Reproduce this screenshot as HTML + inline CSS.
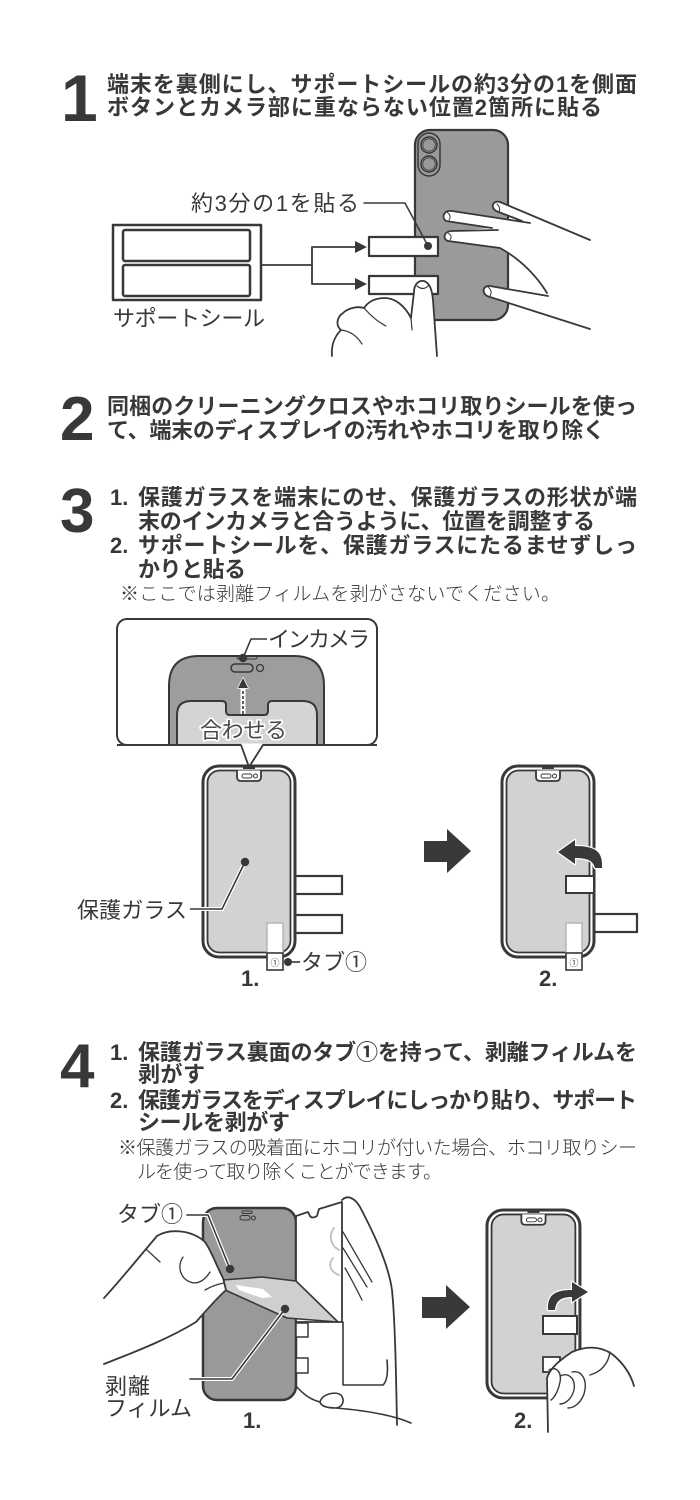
<!DOCTYPE html>
<html><head><meta charset="utf-8">
<style>
html,body{margin:0;padding:0;background:#fff;}
svg{display:block;}
.b{font-family:"Liberation Sans","Noto Sans CJK JP",sans-serif;font-weight:700;font-size:22px;fill:#3a3737;}
.l{font-family:"Liberation Sans","Noto Sans CJK JP",sans-serif;font-weight:300;font-size:19px;fill:#3a3737;}
.m{font-family:"Liberation Sans","Noto Sans CJK JP",sans-serif;font-weight:400;font-size:22px;fill:#3a3737;}
.n{font-family:"Liberation Sans",sans-serif;font-weight:700;fill:#3a3737;}
</style></head><body>
<svg width="700" height="1500" viewBox="0 0 700 1500" xmlns="http://www.w3.org/2000/svg">
<defs>
 <g id="ph">
  <rect x="0" y="0" width="92" height="191" rx="16" fill="#fff" stroke="#3a3737" stroke-width="3"/>
  <rect x="4.5" y="4.5" width="83" height="182" rx="12" fill="#d2d2d2" stroke="#3a3737" stroke-width="1.8"/>
  <path d="M34,4.5 L34,11 Q34,15 38,15 L54,15 Q58,15 58,11 L58,4.5" fill="#fff" stroke="#3a3737" stroke-width="1.8"/>
  <line x1="40" y1="2" x2="52" y2="2" stroke="#3a3737" stroke-width="2"/>
  <rect x="39" y="8" width="10" height="4" rx="2" fill="none" stroke="#3a3737" stroke-width="1"/>
  <circle cx="52.5" cy="10" r="2" fill="none" stroke="#3a3737" stroke-width="1"/>
 </g>
</defs>
<rect width="700" height="1500" fill="#fff"/>

<text class="n" x="61" y="121" font-size="66">1</text>
<text class="b" x="107" y="92" textLength="530">端末を裏側にし、サポートシールの約3分の1を側面</text>
<text class="b" x="107" y="115" textLength="495">ボタンとカメラ部に重ならない位置2箇所に貼る</text>

<g stroke="#3a3737" fill="none" stroke-linejoin="round" stroke-linecap="round">
 <rect x="113" y="225" width="148" height="75" fill="#fff" stroke-width="2.5"/>
 <rect x="123" y="230" width="127" height="31" rx="2" stroke-width="2.5"/>
 <rect x="123" y="265" width="127" height="31" rx="2" stroke-width="2.5"/>
 <polyline points="261,265 312,265" stroke-width="1.8"/>
 <polyline points="356,247 312,247 312,284 356,284" stroke-width="1.8"/>
 <polygon points="355,241 367,247 355,253" fill="#3a3737" stroke="none"/>
 <polygon points="355,278 367,284 355,290" fill="#3a3737" stroke="none"/>
 <rect x="415" y="130" width="93" height="190" rx="15" fill="#9a9a9a" stroke-width="2.2"/>
 <rect x="418" y="133" width="22" height="43" rx="11" fill="#9a9a9a" stroke-width="1.5"/>
 <circle cx="429" cy="145" r="8" stroke-width="1.5"/>
 <circle cx="429" cy="145" r="6.2" stroke-width="0.8"/>
 <circle cx="429" cy="164" r="8" stroke-width="1.5"/>
 <circle cx="429" cy="164" r="6.2" stroke-width="0.8"/>
 <rect x="369" y="237" width="69" height="19" fill="#fff" stroke-width="2.2"/>
 <rect x="369" y="276" width="69" height="18" fill="#fff" stroke-width="2.2"/>
 <polyline points="364,203 405,203 428,246" stroke-width="1.5"/>
 <circle cx="428" cy="246" r="4" fill="#3a3737" stroke="none"/>
 <path d="M590,240 L500,202 C493,200 490,207 496,211 L522,221 L452,211 C444,210 441,217 446,221 L492,228 L452,231 C444,231 442,239 448,241 L500,248 C522,260 538,278 547,293 L490,286 C482,285 481,295 490,297 L590,329 Z" fill="#fff" stroke="none"/>
 <path d="M590,240 L500,202 C493,200 490,207 496,211 L522,221 M530,223 L452,211 C444,210 441,217 446,221 L492,228 M498,230 L452,231 C444,231 442,239 448,241 L500,248 C522,260 538,278 547,293 M548,296 L490,286 C482,285 481,295 490,297 L590,329" stroke-width="1.8"/>
 <path d="M497,204 Q501,208 499,212 M447,212 Q452,216 449,220 M448,233 Q453,236 450,240 M488,287 Q493,291 490,296" stroke-width="1"/>
 <path d="M437,356 L433,300 C432,290 430,283 424,281 C418,280 414,285 414,292 L411,318 C405,306 395,298 385,298 C375,298 368,302 364,308 C358,306 348,308 343,313 C336,318 336,326 341,330 C335,336 331,345 332,356 Z" fill="#fff" stroke="none"/>
 <path d="M437,356 L433,300 C432,290 430,283 424,281 C418,280 414,285 414,292 L411,318 C405,306 395,298 385,298 C375,298 368,302 364,308 C358,306 348,308 343,313 C336,318 336,326 341,330 C335,336 331,345 332,356" stroke-width="1.8"/>
 <path d="M364,308 C371,316 378,322 386,326 M341,330 C350,331 357,336 362,344 M411,318 L412,330 M417,286 Q423,291 428,286" stroke-width="1.2"/>
</g>
<text class="m" x="191" y="211" textLength="168">約3分の1を貼る</text>
<text class="m" x="113" y="326" textLength="152">サポートシール</text>

<text class="n" x="60" y="440" font-size="62">2</text>
<text class="b" x="107" y="414" textLength="530">同梱のクリーニングクロスやホコリ取りシールを使っ</text>
<text class="b" x="107" y="438" textLength="498">て、端末のディスプレイの汚れやホコリを取り除く</text>

<text class="n" x="60" y="532" font-size="62">3</text>
<text class="b" x="110" y="505">1.</text>
<text class="b" x="138" y="505" textLength="499">保護ガラスを端末にのせ、保護ガラスの形状が端</text>
<text class="b" x="138" y="529" textLength="457">末のインカメラと合うように、位置を調整する</text>
<text class="b" x="110" y="553">2.</text>
<text class="b" x="138" y="553" textLength="499">サポートシールを、保護ガラスにたるませずしっ</text>
<text class="b" x="138" y="577" textLength="108">かりと貼る</text>
<text class="l" x="120" y="600" textLength="440">※ここでは剥離フィルムを剥がさないでください。</text>

<g stroke="#3a3737" fill="none" stroke-linejoin="round">
 <rect x="117" y="619" width="260" height="126" rx="10" fill="#fff" stroke-width="2"/>
 <path d="M169,745 L169,686 Q169,656 199,656 L294,656 Q324,656 324,686 L324,745 Z" fill="#9d9d9d" stroke-width="2"/>
 <path d="M177,745 L177,715 Q177,701 191,701 L222,701 Q226,701 226,705 L226,711 Q226,715 230,715 L264,715 Q268,715 268,711 L268,705 Q268,701 272,701 L303,701 Q317,701 317,715 L317,745 Z" fill="#d4d4d4" stroke-width="2"/>
 <line x1="117" y1="745" x2="377" y2="745" stroke-width="2"/>
 <polygon points="241,743.5 263,743.5 249,767" fill="#fff" stroke="none"/>
 <polyline points="241,745 249,767 263,745" stroke-width="1.8"/>
 <rect x="237" y="655.5" width="20" height="3.5" rx="1.7" stroke-width="1"/>
 <rect x="231" y="664" width="22" height="8" rx="4" stroke-width="1.5"/>
 <circle cx="260" cy="668" r="3.5" stroke-width="1.3"/>
 <polyline points="243,658 251,639 267,639" stroke="#fff" stroke-width="4"/>
 <polyline points="243,658 251,639 267,639" stroke-width="1.6"/>
 <circle cx="243" cy="658" r="4.2" fill="#3a3737" stroke="none"/>
 <line x1="243" y1="714" x2="243" y2="686" stroke="#fff" stroke-width="5"/>
 <line x1="243" y1="714" x2="243" y2="688" stroke-width="1.6" stroke-dasharray="3,2"/>
 <polygon points="238,688 248,688 243,678" fill="#3a3737" stroke="#fff" stroke-width="1.5" paint-order="stroke"/>
</g>
<text class="m" x="268" y="647" textLength="102">インカメラ</text>
<text x="200" y="738" font-size="22" textLength="87" style="font-family:'Liberation Sans','Noto Sans CJK JP',sans-serif;fill:#4a4a4a;stroke:#fff;stroke-width:3.5;paint-order:stroke;stroke-linejoin:round;">合わせる</text>

<g stroke="#3a3737" stroke-width="2.2">
 <rect x="288" y="876" width="54" height="18" fill="#fff"/>
 <rect x="288" y="915" width="54" height="18" fill="#fff"/>
</g>
<use href="#ph" x="203" y="766"/>
<rect x="267" y="923" width="16" height="31" fill="#fff" stroke="#b5b5b5" stroke-width="1.5"/>
<rect x="267" y="953" width="16" height="17" fill="#fff" stroke="#3a3737" stroke-width="1.6"/>
<text x="275" y="966" font-size="9" text-anchor="middle" style="font-family:'Liberation Sans','Noto Sans CJK JP',sans-serif;fill:#3a3737;">①</text>
<g stroke="#3a3737" fill="none">
 <line x1="288" y1="962" x2="300" y2="962" stroke-width="1.6"/>
 <polyline points="245,862 222,909 190,909" stroke="#fff" stroke-width="4"/>
 <polyline points="245,862 222,909 190,909" stroke-width="1.6"/>
</g>
<circle cx="288" cy="962" r="4" fill="#3a3737"/>
<circle cx="245" cy="862" r="4.2" fill="#3a3737"/>
<text class="m" x="301" y="970">タブ①</text>
<text class="m" x="77" y="918" textLength="110">保護ガラス</text>
<text class="b" x="241" y="986" font-weight="400">1.</text>

<polygon points="424,841 447,841 447,829 471,851 447,873 447,862 424,862" fill="#3b3838"/>

<rect x="588" y="914" width="49" height="18" fill="#fff" stroke="#3a3737" stroke-width="2.2"/>
<use href="#ph" x="502" y="766"/>
<rect x="566" y="876" width="28" height="17" fill="#fff" stroke="#3a3737" stroke-width="2"/>
<rect x="566" y="923" width="16" height="31" fill="#fff" stroke="#b5b5b5" stroke-width="1.5"/>
<rect x="566" y="953" width="16" height="17" fill="#fff" stroke="#3a3737" stroke-width="1.6"/>
<text x="574" y="966" font-size="9" text-anchor="middle" style="font-family:'Liberation Sans','Noto Sans CJK JP',sans-serif;fill:#3a3737;">①</text>
<path d="M602,868 C603,852 596,846 575,846 L575,840 L558,852 L575,864 L575,858 C588,858 593,861 595,868 Z" fill="#3b3838" stroke="#fff" stroke-width="2.5" paint-order="stroke" stroke-linejoin="round"/>
<text class="b" x="539" y="986" font-weight="400">2.</text>

<text class="n" x="60" y="1087" font-size="62">4</text>
<text class="b" x="110" y="1060">1.</text>
<text class="b" x="138" y="1060" textLength="499">保護ガラス裏面のタブ①を持って、剥離フィルムを</text>
<text class="b" x="138" y="1082" textLength="67">剥がす</text>
<text class="b" x="110" y="1108">2.</text>
<text class="b" x="138" y="1108" textLength="499">保護ガラスをディスプレイにしっかり貼り、サポート</text>
<text class="b" x="138" y="1130" textLength="152">シールを剥がす</text>
<text class="l" x="118" y="1154" textLength="519">※保護ガラスの吸着面にホコリが付いた場合、ホコリ取りシー</text>
<text class="l" x="137" y="1178" textLength="305">ルを使って取り除くことができます。</text>

<g stroke="#3a3737" fill="none" stroke-linejoin="round" stroke-linecap="round">
 <rect x="203" y="1208" width="93" height="192" rx="14" fill="#999" stroke-width="2.5"/>
 <rect x="242" y="1211" width="10" height="2.5" rx="1.2" stroke-width="1"/>
 <rect x="240" y="1215.5" width="10" height="4.5" rx="2.2" stroke-width="1"/>
 <circle cx="253.5" cy="1218" r="2" stroke-width="1"/>
 <rect x="296" y="1323" width="12" height="14" fill="#fff" stroke-width="1.5"/>
 <rect x="296" y="1358" width="12" height="15" fill="#fff" stroke-width="1.5"/>
 <path d="M342,1200 C347,1195 354,1197 360,1207 C372,1230 388,1262 392,1290 C395,1320 396,1370 397,1425 L343,1425 Z" fill="#fff" stroke="none"/>
 <path d="M342,1200 C347,1195 354,1197 360,1207 C372,1230 388,1262 392,1290 C395,1320 396,1370 397,1425" stroke-width="1.8"/>
 <path d="M343,1232 L372,1282 M343,1248 L367,1287 M345,1268 C352,1280 358,1292 362,1300" stroke-width="1.3"/>
 <path d="M343,1322 L343,1385 L383,1385 C388,1380 388,1370 387,1360" stroke-width="1.6"/>
 <path d="M296,1386 C305,1396 312,1400 320,1402 C322,1394 335,1391 341,1395 C345,1400 343,1407 336,1408 C360,1410 390,1414 411,1423 M320,1402 C321,1406 327,1408 336,1408" fill="#fff" stroke-width="1.6"/>
 <path d="M296,1216 L308,1212 L310,1216 Q312,1219 317,1216 L319,1209 L342,1202 L342,1322 L296,1322 Z" fill="#fff" stroke-width="1.8"/>
 <path d="M334,1228 C328,1236 331,1246 339,1250 M333,1258 C328,1264 330,1272 339,1275" stroke="#c4c4c4" stroke-width="2"/>
 <polygon points="222,1280 262,1277 296,1281 338,1322 287,1318 225,1290" fill="#cfcfcf" stroke-width="1.6"/>
 <polygon points="236,1285 263,1289 272,1297 262,1298 239,1290" fill="#fff" stroke="none"/>
 <path d="M100,1302 C118,1283 135,1262 157,1236 C170,1228 192,1230 205,1242 C212,1252 216,1265 223,1278 L226,1290 C215,1300 205,1312 196,1322 C170,1338 140,1350 100,1366 Z" fill="#fff" stroke="none"/>
 <path d="M104,1298 C118,1283 135,1262 157,1236 C170,1228 192,1230 205,1242 C212,1252 216,1265 223,1278 L226,1290 C215,1300 205,1312 196,1322 C170,1338 140,1350 104,1364" stroke-width="1.8"/>
 <path d="M183,1257 C177,1266 180,1278 190,1282 C198,1285 205,1280 210,1272 M205,1290 C212,1286 218,1284 224,1283 M147,1250 L160,1262" stroke-width="1.3"/>
 <polyline points="187,1215 208,1215 230,1269" stroke="#fff" stroke-width="4"/>
 <polyline points="187,1215 208,1215 230,1269" stroke-width="1.6"/>
 <polyline points="285,1309 232,1379 190,1379" stroke="#fff" stroke-width="4"/>
 <polyline points="285,1309 232,1379 190,1379" stroke-width="1.6"/>
</g>
<circle cx="230" cy="1269" r="4.2" fill="#3a3737"/>
<circle cx="285" cy="1309" r="4.2" fill="#3a3737"/>
<text class="m" x="117" y="1222">タブ①</text>
<text class="m" x="105" y="1394" textLength="45">剥離</text>
<text class="m" x="105" y="1416" textLength="87">フィルム</text>
<text class="b" x="243" y="1428" font-weight="400">1.</text>

<polygon points="422,1297 446,1297 446,1285 470,1307 446,1329 446,1318 422,1318" fill="#3b3838"/>

<g transform="translate(487,1210) scale(1.01,0.984)"><use href="#ph"/></g>
<rect x="543" y="1316" width="34" height="18" fill="#fff" stroke="#3a3737" stroke-width="2"/>
<rect x="543" y="1357" width="17" height="15" fill="#fff" stroke="#3a3737" stroke-width="1.8"/>
<path d="M548,1310 C547,1295 555,1290 572,1290 L572,1282 L588,1292 L572,1302 L572,1297 C562,1297 556,1300 555,1310 Z" fill="#3b3838" stroke="#fff" stroke-width="2.5" paint-order="stroke" stroke-linejoin="round"/>
<g stroke="#3a3737" fill="none" stroke-linecap="round" stroke-linejoin="round">
 <path d="M548,1432 L547,1378 C550,1368 560,1360 572,1352 C586,1346 600,1346 612,1354 C622,1362 630,1372 634,1386 L636,1432 Z" fill="#fff" stroke="none"/>
 <path d="M548,1432 L547,1378 C550,1368 560,1360 572,1352 C586,1346 600,1346 612,1354 C622,1362 630,1372 634,1386" stroke-width="1.8"/>
 <path d="M549,1370 C556,1366 562,1372 560,1382 C558,1392 554,1398 551,1400 M560,1376 C568,1372 576,1378 574,1390 C572,1398 566,1404 560,1404 M572,1372 C582,1370 588,1380 584,1394 C581,1402 575,1408 568,1408 M610,1352 C608,1365 600,1372 590,1375" stroke-width="1.4"/>
</g>
<text class="b" x="514" y="1428" font-weight="400">2.</text>
</svg>
</body></html>
